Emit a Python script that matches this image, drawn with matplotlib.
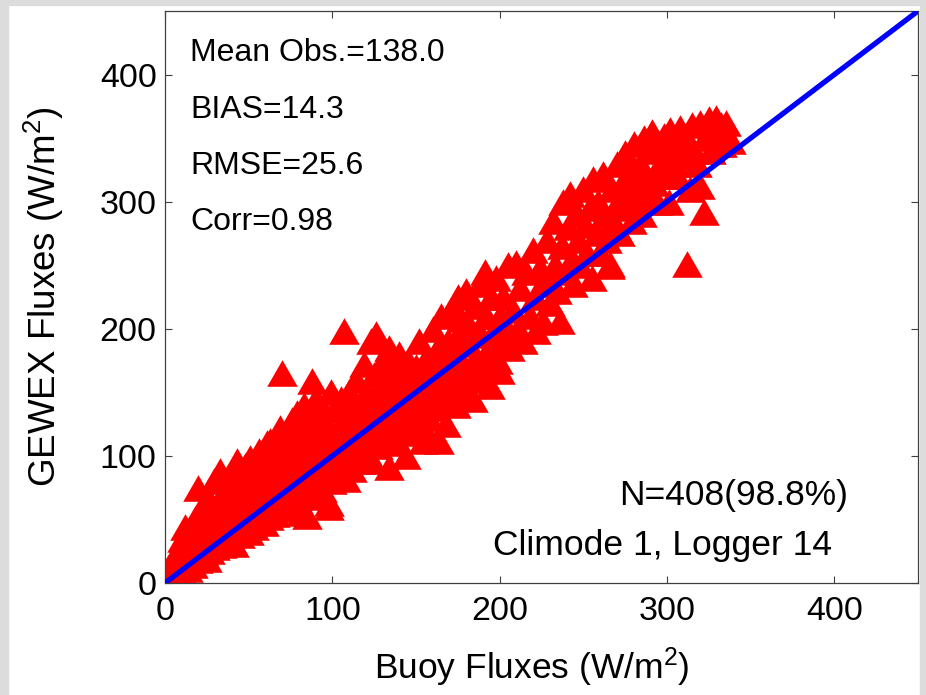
import matplotlib
matplotlib.use("Agg")
import matplotlib.pyplot as plt
from matplotlib.patches import Rectangle

plt.rcParams['font.family'] = ['Liberation Sans', 'DejaVu Sans']
plt.rcParams['mathtext.fontset'] = 'custom'
plt.rcParams['mathtext.rm'] = 'Liberation Sans'
plt.rcParams['mathtext.it'] = 'Liberation Sans'
plt.rcParams['mathtext.bf'] = 'Liberation Sans'

# ---- data (buoy flux, GEWEX flux) ----
points = [
    (1,3),(2,9),(3,5),(3,14),(4,8),(5,18),(5,11),(6,4),(7,13),(7,22),(8,9),(9,17),(9,28),(10,12),(10,35),
    (11,20),(11,8),(12,44),(12,25),(13,15),(14,30),(14,11),(15,20),(16,38),(16,26),(17,14),(18,50),(18,32),
    (19,22),(20,75),(20,44),(20,18),(21,28),(22,60),(22,36),(23,24),(24,52),(25,30),(25,19),
    (26,65),(26,42),(27,25),(28,55),(28,34),(29,80),(30,46),(30,28),(31,62),(32,38),(33,88),(33,52),(34,30),
    (35,70),(35,45),(36,36),(37,82),(37,58),(38,40),(39,66),(40,50),(40,33),(41,90),(41,31),(42,74),(42,56),
    (43,96),(43,44),(44,62),(45,38),(45,84),(46,70),(47,52),(47,42),(48,92),(48,60),(49,78),(50,46),(50,66),(50,40),
    (51,98),(52,56),(53,85),(53,44),(54,72),(55,62),(55,50),(56,104),(57,88),(57,48),(58,70),(59,47),(59,94),
    (60,58),(60,80),(61,110),(62,66),(62,52),(63,112),(63,90),(64,74),(65,60),(66,100),(66,54),(67,84),(68,70),
    (68,118),(69,122),(69,62),(70,165),(70,92),(71,78),(72,58),(72,106),(73,86),(74,68),(74,120),(75,98),(75,64),
    (76,128),(76,80),(77,110),(78,70),(78,92),(79,134),(80,60),(80,100),(81,55),(81,118),(82,86),(83,140),(83,74),
    (84,106),(85,53),(85,124),(86,94),(87,80),(88,159),(88,112),(89,68),(90,145),(90,100),(91,130),(92,86),
    (93,118),(94,74),(94,138),(95,104),(96,92),(97,124),(98,63),(98,60),(98,110),(99,150),(100,80),(100,98),
    (101,136),(102,118),(103,88),(104,108),(105,145),(106,96),(107,198),(107,126),(108,82),(109,114),(110,150),
    (110,100),(111,135),(112,90),(113,124),(114,160),(115,108),(116,140),(117,96),(118,118),(119,172),(120,130),
    (120,104),(121,150),(122,112),(123,190),(123,138),(124,96),(125,164),(125,122),
    (126,196),(127,108),(128,146),(129,130),(130,175),(130,112),(131,158),(132,138),(133,120),(134,91),(134,185),
    (135,150),(136,128),(137,170),(138,110),(139,140),(140,180),(140,155),(141,120),(142,165),(143,132),(144,100),
    (145,175),(145,148),(146,125),(147,160),(148,140),(149,118),(150,170),(150,150),
    (151,130),(152,190),(153,158),(154,112),(155,142),(156,176),(157,165),(158,115),(158,130),(160,200),(160,150),
    (161,170),(162,138),(163,185),(164,112),(165,210),(165,155),(166,175),(167,145),(168,125),(169,190),(170,165),
    (171,215),(172,150),(173,180),(174,140),(175,225),(175,195),
    (176,160),(177,208),(178,172),(179,150),(180,230),(181,188),(182,165),(183,200),(184,145),(185,218),(186,178),
    (187,160),(188,235),(189,195),(190,170),(191,245),(192,210),(193,180),(194,155),(195,225),(196,190),(197,200),
    (198,240),(199,175),(200,167),(200,210),
    (202,225),(204,195),(205,250),(206,185),(208,215),(210,252),(211,200),(212,232),(214,190),(216,245),(218,210),
    (220,262),(221,225),(222,198),(224,248),(225,235),(226,205),(228,270),(229,240),(230,220),
    (232,285),(233,250),(234,230),(236,206),(237,265),(238,300),(240,245),(241,280),(242,306),(243,255),(244,235),
    (246,290),(247,270),(248,250),(250,310),(251,282),(252,260),(254,295),(255,240),(256,318),(258,275),(259,300),
    (260,260),
    (262,322),(263,290),(264,270),(266,249),(266,251),(267,310),(268,285),(270,330),(271,300),(272,275),(274,315),
    (275,338),(276,295),(278,325),(279,285),(280,345),(281,310),(282,300),(284,330),(285,290),(286,350),(288,320),
    (289,305),(290,340),(291,355),(292,315),(294,300),(295,345),(296,330),(298,352),(299,320),(300,340),
    (301,300),(302,356),(304,330),(305,345),(306,320),(308,358),(310,335),(312,251),(312,348),(314,310),(315,360),
    (316,340),(318,330),(320,362),(320,312),(322,292),(323,350),(325,365),(326,340),(328,355),(329,366),(330,345),
    (332,360),(333,345),(335,362),(336,350),(338,348),
]
buoy = [p[0] for p in points]
gewex = [p[1] for p in points]

x_ticks = [0, 100, 200, 300, 400]
y_ticks = [0, 100, 200, 300, 400]
stats_lines = ["Mean Obs.=138.0", "BIAS=14.3", "RMSE=25.6", "Corr=0.98"]
n_text = "N=408(98.8%)"
site_text = "Climode 1, Logger 14"

W, H = 926, 695
fig = plt.figure(figsize=(W / 100, H / 100), dpi=100)
fig.patch.set_facecolor('white')

# textured border strips
tex = '#dcdcdc'
fig.patches.append(Rectangle((0, 0), 8 / W, 1, transform=fig.transFigure, color=tex, zorder=0))
fig.patches.append(Rectangle((0, 1 - 5 / H), 1, 5 / H, transform=fig.transFigure, color=tex, zorder=0))
fig.patches.append(Rectangle((1 - 6 / W, 0), 6 / W, 1, transform=fig.transFigure, color=tex, zorder=0))

ax = fig.add_axes([165 / W, (H - 583) / H, (918 - 165) / W, (583 - 11) / H])

tri = [(-1, -0.87), (1, -0.87), (0, 0.87), (-1, -0.87)]
ax.plot(buoy, gewex, linestyle='none', marker=tri, markersize=22,
        markerfacecolor='#ff0000', markeredgecolor='#ff0000', markeredgewidth=0, zorder=2)
ax.plot([0, 450], [0, 450], color='#0000ff', linewidth=3.8, zorder=3, solid_capstyle='butt')

ax.set_xlim(0, 450)
ax.set_ylim(0, 450)
ax.set_xticks(x_ticks)
ax.set_yticks(y_ticks)
ax.tick_params(direction='in', length=5, width=0.8, color='#404040', labelsize=24.5,
               top=True, right=True)
ax.tick_params(axis='x', pad=9)
ax.tick_params(axis='y', pad=6)
for s in ax.spines.values():
    s.set_color('#404040')
    s.set_linewidth(0.9)

def px(xp, yp):
    return (xp / W, 1 - yp / H)

for i, t in enumerate(stats_lines):
    fx, fy = px(190, 61 + i * 56.5)
    fig.text(fx, fy, t, fontsize=23, ha='left', va='baseline')
fx, fy = px(848, 505)
fig.text(fx, fy, n_text, fontsize=25.5, ha='right', va='baseline')
fx, fy = px(493, 555)
fig.text(fx, fy, site_text, fontsize=25.5, ha='left', va='baseline')

ax.set_xlabel(r'Buoy Fluxes (W/m$^2$)', fontsize=25.5)
ax.xaxis.set_label_coords((532 - 165) / (918 - 165), -0.11)
ax.set_ylabel(r'GEWEX Fluxes (W/m$^2$)', fontsize=26.5, labelpad=24)

fig.savefig('out.png', dpi=100)
